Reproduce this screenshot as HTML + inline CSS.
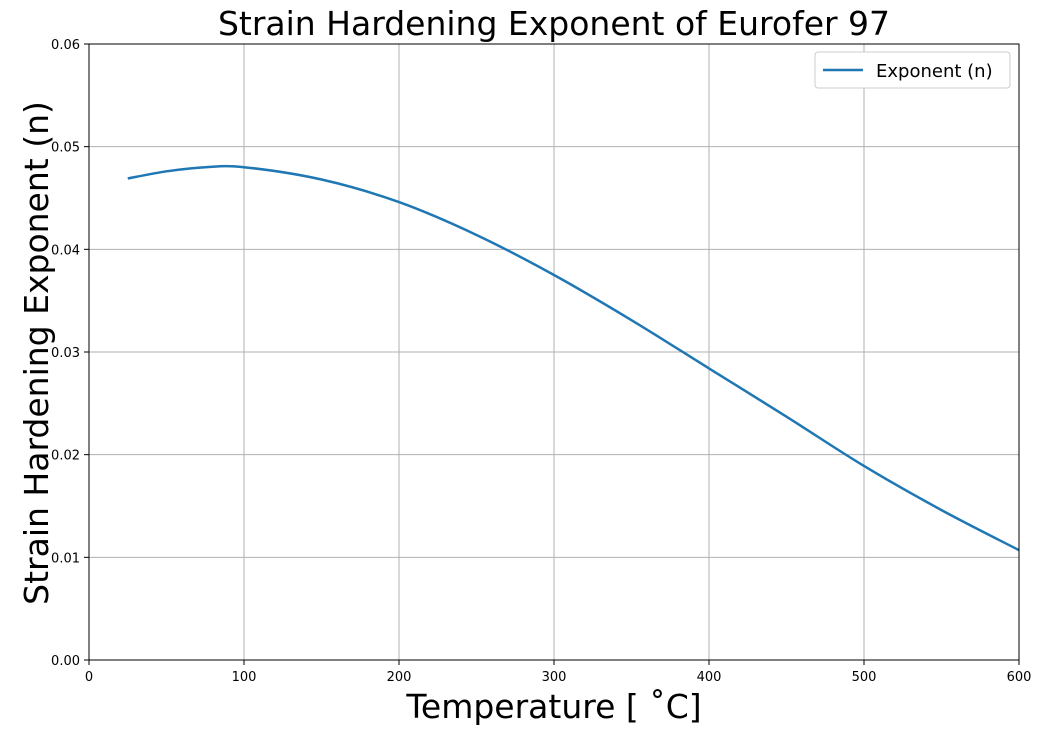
<!DOCTYPE html>
<html><head><meta charset="utf-8"><style>
html,body{margin:0;padding:0;background:#fff;}
svg{display:block;font-family:"DejaVu Sans","Liberation Sans",sans-serif;}
</style></head><body>
<svg id="chart" width="1042" height="736">
<text x="554" y="35" text-anchor="middle" font-size="33">Strain Hardening Exponent of Eurofer 97</text>
<g id="grid"></g>
<g id="ticks"></g>
<path id="line" fill="none" stroke="#1f77b4" stroke-width="2.5"/>
<rect x="89" y="44" width="930" height="616" fill="none" stroke="#000" stroke-width="1"/>
<text x="554" y="718" text-anchor="middle" font-size="33">Temperature [ ˚C]</text>
<text transform="translate(48,353) rotate(-90)" text-anchor="middle" font-size="33">Strain Hardening Exponent (n)</text>
<g>
<rect x="815" y="52" width="195" height="36" rx="3" fill="#fff" stroke="#ccc"/>
<line x1="823" y1="70" x2="863" y2="70" stroke="#1f77b4" stroke-width="2.5"/>
<text x="876" y="77" font-size="18">Exponent (n)</text>
</g>
</svg>
<script>
const temps=[25,50,75,100,150,200,250,300,350,400,450,500,550,600];
const values=[0.0469,0.0476,0.0480,0.0480,0.0468,0.0446,0.0414,0.0375,0.0331,0.0284,0.0237,0.0189,0.0146,0.0107];
const xTicks=[0,100,200,300,400,500,600];
const yTicks=[0,0.01,0.02,0.03,0.04,0.05,0.06];
const yTickLabels=["0.00","0.01","0.02","0.03","0.04","0.05","0.06"];
const X=v=>89+v/600*930, Y=v=>660-v/0.06*616;
const NS="http://www.w3.org/2000/svg";
const grid=document.getElementById('grid'), ticks=document.getElementById('ticks');
function mk(tag,attrs,parent){const e=document.createElementNS(NS,tag);for(const k in attrs)e.setAttribute(k,attrs[k]);parent.appendChild(e);return e;}
xTicks.forEach(t=>{
 const g=mk('line',{x1:X(t),x2:X(t),y1:44,y2:660,stroke:'#b0b0b0','stroke-width':1},grid);
 
 
 const tk=mk('line',{x1:X(t),x2:X(t),y1:660,y2:665,stroke:'#000'},ticks);
 
 
 const tx=mk('text',{x:X(t),y:681,'text-anchor':'middle','font-size':13},ticks);tx.textContent=t;
 
 
});
yTicks.forEach((t,i)=>{
 const g=mk('line',{x1:89,x2:1019,y1:Y(t),y2:Y(t),stroke:'#b0b0b0','stroke-width':1},grid);
 
 
 const tk=mk('line',{x1:84,x2:89,y1:Y(t),y2:Y(t),stroke:'#000'},ticks);
 
 
 const tx=mk('text',{x:80,y:Y(t)+5,'text-anchor':'end','font-size':13},ticks);tx.textContent=yTickLabels[i];
 
 
});
const P=temps.map((t,i)=>[X(t),Y(values[i])]);
let d='M'+P[0][0]+','+P[0][1];
for(let i=0;i<P.length-1;i++){
 const p0=P[Math.max(i-1,0)],p1=P[i],p2=P[i+1],p3=P[Math.min(i+2,P.length-1)];
 const c1=[p1[0]+(p2[0]-p0[0])/6,p1[1]+(p2[1]-p0[1])/6];
 const c2=[p2[0]-(p3[0]-p1[0])/6,p2[1]-(p3[1]-p1[1])/6];
 d+=' C'+c1+' '+c2+' '+p2;
}
document.getElementById('line').setAttribute('d',d);
</script>
</body></html>
